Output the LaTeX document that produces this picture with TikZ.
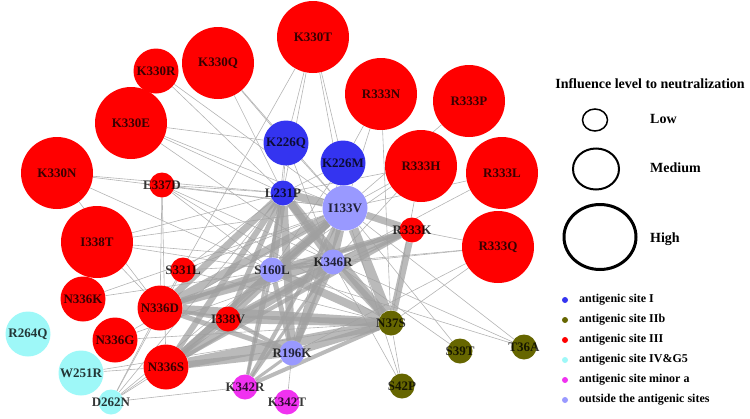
\documentclass[tikz,border=0pt]{standalone}
\usepackage{fontspec}
\setmainfont{Liberation Serif}
\usetikzlibrary{backgrounds,shapes.geometric}
\definecolor{cred}{RGB}{255,0,0}
\definecolor{cblue}{RGB}{52,52,240}
\definecolor{colive}{RGB}{102,102,0}
\definecolor{ccyan}{RGB}{158,248,248}
\definecolor{cmag}{RGB}{240,50,240}
\definecolor{clav}{RGB}{153,153,255}
\definecolor{thinc}{RGB}{180,180,180}
\definecolor{thickc}{RGB}{160,160,160}
\begin{document}
\begin{tikzpicture}[x=1pt,y=-1pt,
  nd/.style={circle,inner sep=0pt,draw=none},
  big/.style={nd,minimum size=72pt},
  mid/.style={nd,minimum size=45pt},
  sml/.style={nd,minimum size=25pt},
  lbl/.style={inner sep=0pt,font=\fontsize{13}{15}\selectfont\bfseries,text=black,text opacity=0.78},
  thinedge/.style={draw=thinc,line width=0.6pt},
  thickedge/.style={draw=thickc,opacity=0.72},
  legtxt/.style={anchor=west,inner sep=0pt,font=\fontsize{12}{14}\selectfont\bfseries},
  legbig/.style={anchor=west,inner sep=0pt,font=\fontsize{14}{16}\selectfont\bfseries},
  legdot/.style={circle,inner sep=0pt,minimum size=6pt}
]
\useasboundingbox (0,0) rectangle (750,418);

% ---------- nodes ----------
\foreach \n/\x/\y/\s/\c in {
  K330T/313/37/big/cred, K330Q/218/63/big/cred, K330R/156/71/mid/cred,
  K330E/131/123/big/cred, K330N/57/173/big/cred, E337D/162/185/sml/cred,
  R333N/381/94/big/cred, R333P/469/101/big/cred, K226Q/286/143/mid/cblue,
  K226M/343/163/mid/cblue, R333H/421/166/big/cred, R333L/502/173/big/cred,
  L231P/283/193/sml/cblue, I133V/345/208/mid/clav, R333K/412/230/sml/cred,
  R333Q/498/247/big/cred, K346R/333/262/sml/clav, S160L/272/270/sml/clav,
  S331L/183/270/sml/cred, I338T/97/242/big/cred, N336K/83/299/mid/cred,
  N336D/160/308/mid/cred, I338V/228/319/sml/cred, R264Q/28/334/mid/ccyan,
  N336G/115/340/mid/cred, N336S/166/367/mid/cred, W251R/81/373/mid/ccyan,
  D262N/111/402/sml/ccyan, K342R/245/387/sml/cmag, K342T/287/402/sml/cmag,
  R196K/292/353/sml/clav, N37S/391/323/sml/colive, S39T/460/351/sml/colive,
  T36A/524/347/sml/colive, S42P/402/386/sml/colive}
{
  \node[\s,fill=\c] (\n) at (\x,\y) {};
  \node[lbl] (\n-t) at (\x,\y) {\n};
}

% ---------- edges ----------
\begin{pgfonlayer}{background}
\foreach \a/\b in {
  K330T/K226Q, K330T/L231P, K330T/K226M, K330T/I133V, K330T/N336D,
  K330Q/K226Q, K330Q/L231P, K330Q/I133V,
  K330R/L231P, K330R/I133V,
  K330E/L231P, K330E/I133V, K330E/K346R, K330E/K226Q,
  K330N/L231P, K330N/S160L, K330N/I133V, K330N/N336D,
  E337D/L231P, E337D/I133V, E337D/S160L, E337D/N336D, E337D/K346R, E337D/N37S, E337D/N336S,
  R333N/K226M, R333N/I133V, R333N/N37S,
  R333P/I133V,
  R333H/I133V, R333H/K346R, R333H/S160L, R333H/L231P, R333H/N37S,
  R333L/I133V, R333L/K346R,
  R333Q/R333K, R333Q/K346R, R333Q/S160L, R333Q/N37S, R333Q/R196K,
  K226Q/L231P, K226Q/I133V, K226Q/S160L, K226Q/K346R,
  K226M/I133V, K226M/L231P, K226M/S160L, K226M/R196K,
  I338T/L231P, I338T/I133V, I338T/N336D, I338T/S160L, I338T/K346R,
  N336K/I133V, N336K/K346R,
  S331L/L231P, S331L/I133V, S331L/N37S, S331L/K346R,
  N336G/N37S, N336G/I133V, N336G/K346R,
  W251R/N37S, W251R/N336S,
  D262N/N336D, D262N/S331L, D262N/I338V, D262N/K342R, D262N/L231P, D262N/I133V, D262N/N336S,
  K342T/R196K,
  S39T/I133V, S39T/K346R,
  T36A/I133V, T36A/K346R, T36A/S160L,
  S42P/N37S, S42P/K346R, S42P/I133V}
  \draw[thinedge] (\a) -- (\b);
\foreach \a/\b/\w in {
  N37S/N336S/10, N37S/N336D/9, N37S/I338V/8, N37S/L231P/9, N37S/I133V/10,
  N37S/K346R/8, N37S/S160L/8, N37S/R196K/7, N37S/R333K/7,
  L231P/S160L/8, L231P/R196K/8, L231P/I133V/8, L231P/K346R/8, L231P/N336D/7,
  L231P/N336S/6, L231P/I338V/5,
  I133V/S160L/8, I133V/K346R/8, I133V/R196K/8, I133V/N336D/8, I133V/N336S/7,
  I133V/I338V/6, I133V/R333K/7,
  K346R/S160L/5, K346R/N336D/7, K346R/N336S/7, K346R/R196K/6, K346R/I338V/5, K346R/R333K/5,
  S160L/N336D/6, S160L/N336S/5, S160L/R196K/5, S160L/R333K/5,
  R196K/N336D/5, R196K/N336S/7, R196K/I338V/4, R196K/K342R/3,
  N336D/I338V/4, N336S/I338V/4, N336D/R333K/4, N336S/R333K/4, I338V/R333K/4,
  K342R/L231P/3, K342R/I133V/4, K342R/K346R/3, K342R/N37S/4, K342R/S160L/3}
  \draw[thickedge,line width=\w pt] (\a) -- (\b);
\end{pgfonlayer}

% ---------- legend ----------
\node[legbig,anchor=center] (ltitle) at (650,84) {Influence level to neutralization};
\node[ellipse,draw,line width=1.5pt,minimum width=25pt,minimum height=22pt,inner sep=0pt] (lowc) at (595,120) {};
\node[ellipse,draw,line width=2pt,minimum width=46pt,minimum height=41pt,inner sep=0pt] (medc) at (596,169) {};
\node[ellipse,draw,line width=3pt,minimum width=72pt,minimum height=65pt,inner sep=0pt] (highc) at (600,237) {};
\node[legbig] (lowt) at (650,119) {Low};
\node[legbig] (medt) at (650,168) {Medium};
\node[legbig] (hight) at (650,239) {High};

\foreach \i/\c/\t in {0/cblue/antigenic site I, 1/colive/antigenic site IIb,
  2/cred/antigenic site III, 3/ccyan/antigenic site IV\&G5,
  4/cmag/antigenic site minor a, 5/clav/outside the antigenic sites}
{
  \node[legdot,fill=\c] (ld\i) at (565,300+20*\i) {};
  \node[legtxt] (lt\i) at (579,300+20*\i) {\t};
}
\end{tikzpicture}
\end{document}
